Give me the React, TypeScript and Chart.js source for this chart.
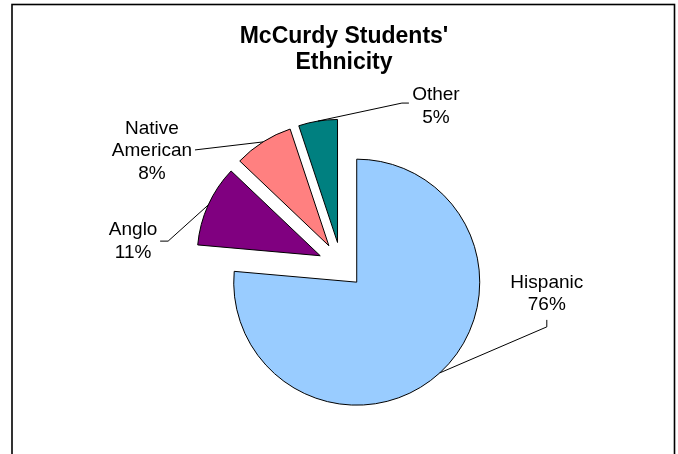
import { useEffect, useRef } from "react";
import { Chart, PieController, ArcElement } from "chart.js";

Chart.register(PieController, ArcElement);

const TITLE_LINES = ["McCurdy Students'", "Ethnicity"];
const CATEGORIES = ["Hispanic", "Anglo", "Native American", "Other"];
const LABEL_LINES = [["Hispanic"], ["Anglo"], ["Native", "American"], ["Other"]];
const SHARES = [76.4, 10.7, 7.8, 5.1];
const COLORS = ["#99CCFF", "#800080", "#FF8080", "#008080"];

// label text anchor + leader line points, relative to the slice's outer mid point
const LABEL_TEXT = [
  [107, -85],
  [-75, 30],
  [-111, -8],
  [118, -21],
];
const LEADERS = [
  [[107, -46], [107, -53]],
  [[-40, 36], [-48, 36]],
  [[-68, 8]],
  [[84, -18], [91, -18]],
];

const EXPLODE = 23;
const FONT = '"Liberation Sans", Arial, sans-serif';

const shift = (meta: any, dir: number) => {
  meta.data.forEach((arc: any) => {
    const mid = (arc.startAngle + arc.endAngle) / 2;
    arc.x += Math.cos(mid) * EXPLODE * dir;
    arc.y += Math.sin(mid) * EXPLODE * dir;
  });
};

const piePlugin = {
  id: "explodedPie",
  beforeDraw(chart: any) {
    const ctx = chart.ctx;
    ctx.save();
    ctx.strokeStyle = "#000";
    ctx.lineWidth = 1.6;
    ctx.strokeRect(12, 4.5, 662.5, 520);
    ctx.fillStyle = "#000";
    ctx.font = `bold 23px ${FONT}`;
    ctx.textAlign = "center";
    ctx.textBaseline = "alphabetic";
    TITLE_LINES.forEach((t, i) => ctx.fillText(t, 344, 43 + i * 26));
    ctx.restore();
  },
  beforeDatasetDraw(chart: any, args: any) {
    shift(args.meta, 1);
  },
  afterDatasetDraw(chart: any, args: any) {
    const ctx = chart.ctx;
    ctx.save();
    ctx.font = `19px ${FONT}`;
    ctx.fillStyle = "#000";
    ctx.strokeStyle = "#000";
    ctx.lineWidth = 1;
    ctx.textAlign = "center";
    ctx.textBaseline = "alphabetic";
    args.meta.data.forEach((arc: any, i: number) => {
      const mid = (arc.startAngle + arc.endAngle) / 2;
      const mx = arc.x + Math.cos(mid) * arc.outerRadius;
      const my = arc.y + Math.sin(mid) * arc.outerRadius;
      ctx.beginPath();
      ctx.moveTo(mx, my);
      LEADERS[i].forEach(([dx, dy]) => ctx.lineTo(mx + dx, my + dy));
      ctx.stroke();
      const lines = [...LABEL_LINES[i], `${Math.round(SHARES[i])}%`];
      const [tx, ty] = LABEL_TEXT[i];
      lines.forEach((t, j) => ctx.fillText(t, mx + tx, my + ty + j * 22.5));
    });
    ctx.restore();
    shift(args.meta, -1);
  },
};

export default function App() {
  const chartRef = useRef<HTMLCanvasElement>(null);
  const chartInstance = useRef<Chart | null>(null);

  useEffect(() => {
    if (!chartRef.current) return;

    if (chartInstance.current) {
      chartInstance.current.destroy();
    }

    chartInstance.current = new Chart(chartRef.current, {
      type: "pie",
      data: {
        labels: CATEGORIES,
        datasets: [
          {
            data: SHARES,
            backgroundColor: COLORS,
            borderColor: "#000",
            borderWidth: 1,
          },
        ],
      },
      options: {
        animation: false,
        responsive: true,
        maintainAspectRatio: false,
        layout: {
          padding: { left: 217.7, right: 213.3, top: 141.7, bottom: 65.3 },
        },
        events: [],
      },
      plugins: [piePlugin],
    });

    return () => {
      if (chartInstance.current) {
        chartInstance.current.destroy();
        chartInstance.current = null;
      }
    };
  }, []);

  return (
    <div
      style={{
        position: "fixed",
        left: 0,
        top: 0,
        width: 678,
        height: 454,
        background: "#fff",
      }}
    >
      <canvas ref={chartRef} />
    </div>
  );
}
